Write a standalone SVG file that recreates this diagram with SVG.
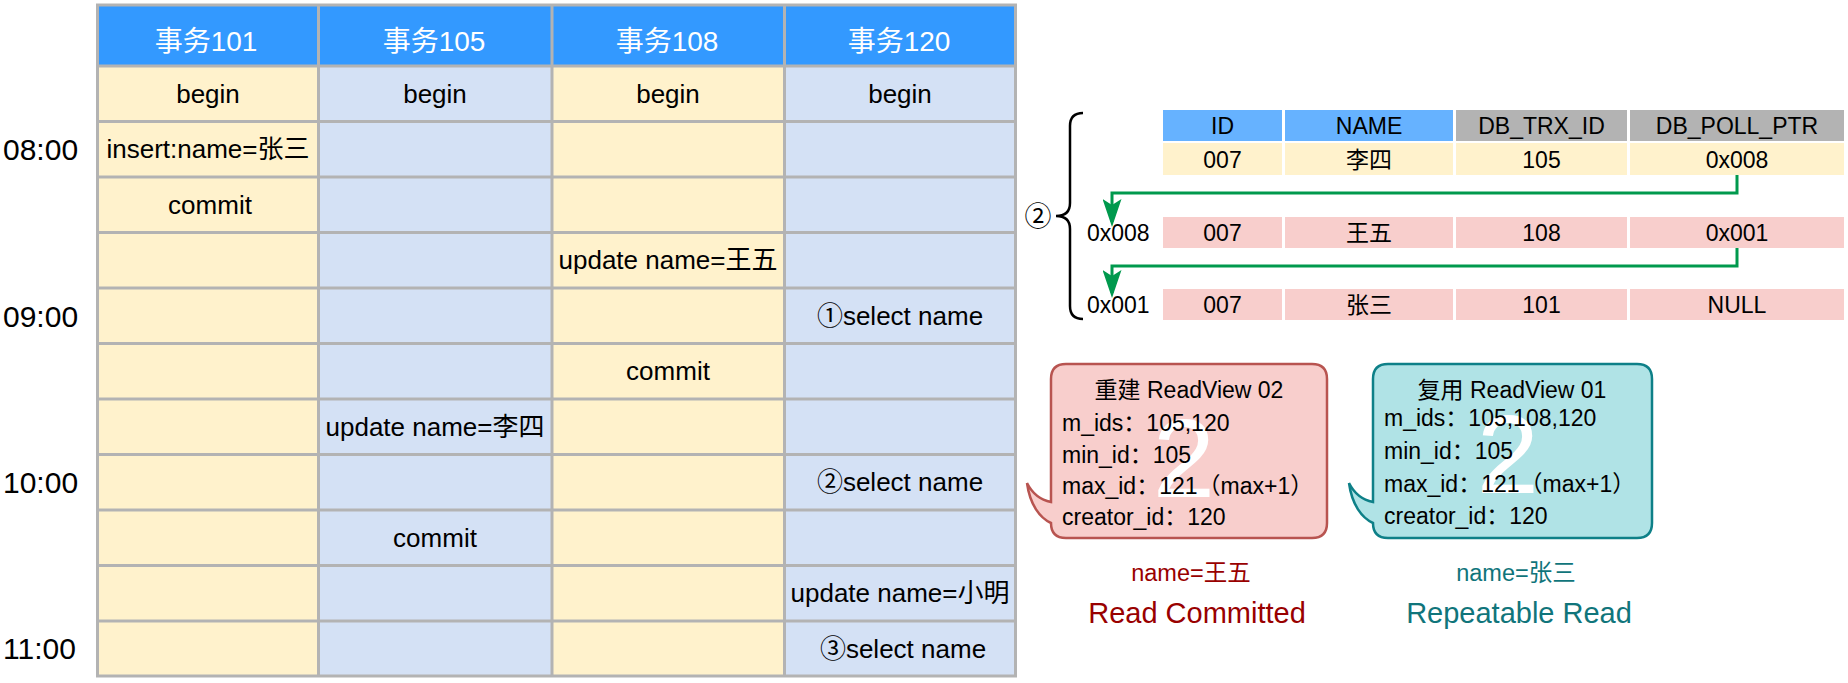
<svg xmlns="http://www.w3.org/2000/svg" width="1848" height="683" viewBox="0 0 1848 683">
<style>
text{font-family:"Liberation Sans","Noto Sans CJK SC",sans-serif}
.hd{fill:#3399ff}
.cy{fill:#fff2cc}
.cb{fill:#d4e1f5}
.grid{stroke:#b3b3b3;stroke-width:3;fill:none}
.ht{font-size:28px;fill:#ffffff;text-anchor:middle}
.ct{font-size:26px;fill:#000;text-anchor:middle}
.tm{font-size:30px;fill:#000}
.rt{font-size:23px;fill:#000;text-anchor:middle}
.rl{font-size:23px;fill:#000}
.cl{font-size:23px;fill:#000}
.wm{font-size:112px;fill:#ffffff;text-anchor:middle}
.link{stroke:#00994d;stroke-width:3;fill:none}
</style>
<defs>
<marker id="ah" markerWidth="28" markerHeight="19" refX="23" refY="9.5" orient="auto" markerUnits="userSpaceOnUse" viewBox="0 0 28 19">
<path d="M0,0 L28,9.5 L0,19 L6,9.5 Z" fill="#00994d"/>
</marker>
</defs>

<g id="time-labels">
<text class="tm" x="3" y="160">08:00</text>
<text class="tm" x="3" y="327">09:00</text>
<text class="tm" x="3" y="493">10:00</text>
<text class="tm" x="3" y="659">11:00</text>
</g>

<g id="transaction-table">
<rect class="hd" x="97.5" y="5" width="918" height="61"/>
<rect class="cy" x="97.5" y="66" width="221" height="610"/>
<rect class="cb" x="318.5" y="66" width="233.5" height="610"/>
<rect class="cy" x="552" y="66" width="232.5" height="610"/>
<rect class="cb" x="784.5" y="66" width="231" height="610"/>
<path class="grid" d="M97.5,5 H1015.5 V676 H97.5 Z M318.5,5 V676 M552,5 V676 M784.5,5 V676 M97.5,66 H1015.5 M97.5,121.5 H1015.5 M97.5,177 H1015.5 M97.5,232.5 H1015.5 M97.5,288 H1015.5 M97.5,343.5 H1015.5 M97.5,399 H1015.5 M97.5,454.5 H1015.5 M97.5,510 H1015.5 M97.5,565.5 H1015.5 M97.5,621 H1015.5"/>
<text class="ht" x="206" y="51">事务101</text>
<text class="ht" x="434" y="51">事务105</text>
<text class="ht" x="667" y="51">事务108</text>
<text class="ht" x="899" y="51">事务120</text>
<text class="ct" x="208" y="102.5">begin</text>
<text class="ct" x="435" y="102.5">begin</text>
<text class="ct" x="668" y="102.5">begin</text>
<text class="ct" x="900" y="102.5">begin</text>
<text class="ct" x="208" y="158">insert:name=张三</text>
<text class="ct" x="210" y="213.5">commit</text>
<text class="ct" x="668" y="269">update name=王五</text>
<text class="ct" x="900" y="324.5">①select name</text>
<text class="ct" x="668" y="380">commit</text>
<text class="ct" x="435" y="435.5">update name=李四</text>
<text class="ct" x="900" y="491">②select name</text>
<text class="ct" x="435" y="546.5">commit</text>
<text class="ct" x="900" y="602">update name=小明</text>
<text class="ct" x="903" y="657.5">③select name</text>
</g>

<g id="version-chain">
<path d="M1083,113 Q1070,113 1070,126 V203 Q1070,216 1056,216 Q1070,216 1070,229 V306 Q1070,319 1083,319" fill="none" stroke="#000" stroke-width="2.5"/>
<text x="1038" y="226" font-size="27" text-anchor="middle" style="font-family:'Noto Sans CJK SC',sans-serif">②</text>
<rect x="1163" y="110" width="119" height="31" fill="#66b2ff"/>
<rect x="1285" y="110" width="168" height="31" fill="#66b2ff"/>
<rect x="1456" y="110" width="171" height="31" fill="#b3b3b3"/>
<rect x="1630" y="110" width="214" height="31" fill="#b3b3b3"/>
<rect x="1163" y="143" width="119" height="32" fill="#fff2cc"/>
<rect x="1285" y="143" width="168" height="32" fill="#fff2cc"/>
<rect x="1456" y="143" width="171" height="32" fill="#fff2cc"/>
<rect x="1630" y="143" width="214" height="32" fill="#fff2cc"/>
<rect x="1163" y="217" width="119" height="31" fill="#f8cecc"/>
<rect x="1285" y="217" width="168" height="31" fill="#f8cecc"/>
<rect x="1456" y="217" width="171" height="31" fill="#f8cecc"/>
<rect x="1630" y="217" width="214" height="31" fill="#f8cecc"/>
<rect x="1163" y="289" width="119" height="31" fill="#f8cecc"/>
<rect x="1285" y="289" width="168" height="31" fill="#f8cecc"/>
<rect x="1456" y="289" width="171" height="31" fill="#f8cecc"/>
<rect x="1630" y="289" width="214" height="31" fill="#f8cecc"/>
<text class="rt" x="1222.5" y="134">ID</text>
<text class="rt" x="1369" y="134">NAME</text>
<text class="rt" x="1541.5" y="134">DB_TRX_ID</text>
<text class="rt" x="1737" y="134">DB_POLL_PTR</text>
<text class="rt" x="1222.5" y="167.5">007</text>
<text class="rt" x="1369" y="167.5">李四</text>
<text class="rt" x="1541.5" y="167.5">105</text>
<text class="rt" x="1737" y="167.5">0x008</text>
<text class="rl" x="1087" y="240.5">0x008</text>
<text class="rt" x="1222.5" y="240.5">007</text>
<text class="rt" x="1369" y="240.5">王五</text>
<text class="rt" x="1541.5" y="240.5">108</text>
<text class="rt" x="1737" y="240.5">0x001</text>
<text class="rl" x="1087" y="312.5">0x001</text>
<text class="rt" x="1222.5" y="312.5">007</text>
<text class="rt" x="1369" y="312.5">张三</text>
<text class="rt" x="1541.5" y="312.5">101</text>
<text class="rt" x="1737" y="312.5">NULL</text>
</g>

<g id="connectors">
<path class="link" d="M1737,175 V193 H1112 V222" marker-end="url(#ah)"/>
<path class="link" d="M1737,248 V266 H1112 V293" marker-end="url(#ah)"/>
</g>

<g id="readview-rc">
<path d="M1066,364 H1312 Q1327,364 1327,379 V523 Q1327,538 1312,538 H1066 Q1051,538 1051,523 C1040,518 1030,505 1027,483 C1033,495 1041,500 1051,502 V379 Q1051,364 1066,364 Z" fill="#f8cecc" stroke="#b85450" stroke-width="2.5"/>
<text class="wm" x="1184" y="497">2</text>
<text class="cl" x="1189" y="398" text-anchor="middle">重建 ReadView 02</text>
<text class="cl" x="1062" y="431">m_ids：105,120</text>
<text class="cl" x="1062" y="463">min_id：105</text>
<text class="cl" x="1062" y="494">max_id：121（max+1）</text>
<text class="cl" x="1062" y="525">creator_id：120</text>
</g>

<g id="readview-rr">
<path d="M1388,364 H1637 Q1652,364 1652,379 V523 Q1652,538 1637,538 H1388 Q1373,538 1373,523 C1362,518 1352,505 1349,483 C1355,495 1363,500 1373,502 V379 Q1373,364 1388,364 Z" fill="#b0e3e6" stroke="#0e8088" stroke-width="2.5"/>
<text class="wm" x="1508" y="493">2</text>
<text class="cl" x="1512" y="398" text-anchor="middle">复用 ReadView 01</text>
<text class="cl" x="1384" y="426">m_ids：105,108,120</text>
<text class="cl" x="1384" y="459">min_id：105</text>
<text class="cl" x="1384" y="492">max_id：121（max+1）</text>
<text class="cl" x="1384" y="524">creator_id：120</text>
</g>

<g id="result-rc">
<text x="1191" y="581" font-size="23.5" fill="#990000" text-anchor="middle">name=王五</text>
<text x="1197" y="623" font-size="29" fill="#990000" text-anchor="middle">Read Committed</text>
</g>
<g id="result-rr">
<text x="1516" y="581" font-size="23.5" fill="#10757b" text-anchor="middle">name=张三</text>
<text x="1519" y="623" font-size="29" fill="#10757b" text-anchor="middle">Repeatable Read</text>
</g>
</svg>
